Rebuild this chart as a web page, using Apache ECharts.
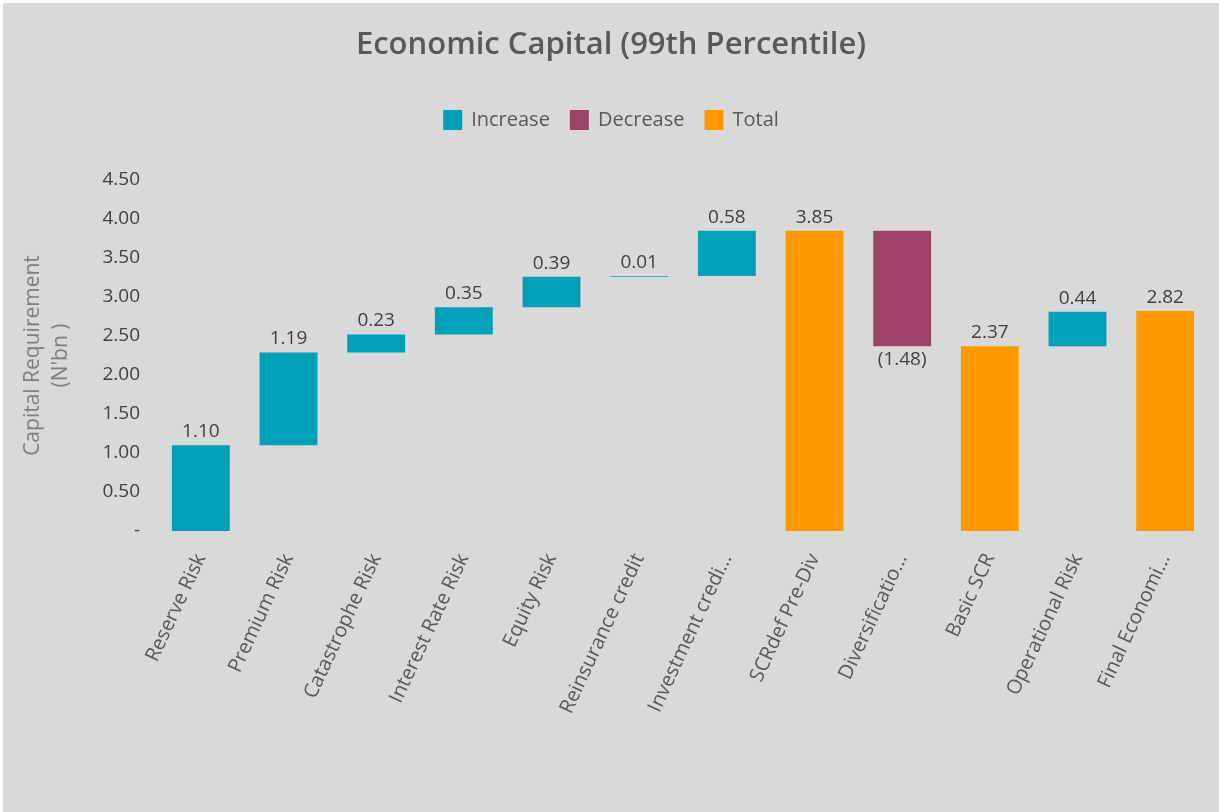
<!DOCTYPE html>
<html>
<head>
<meta charset="utf-8">
<script src="https://cdn.jsdelivr.net/npm/echarts@6/dist/echarts.min.js"></script>
<style>
html,body{margin:0;padding:0;background:#ffffff;}
#wrap{position:absolute;left:3px;top:3px;width:1216px;height:809px;background:#d9d9d9;}
#chart{width:1216px;height:809px;}
</style>
</head>
<body>
<div id="wrap"><div id="chart"></div></div>
<script>
const categories = ['Reserve Risk','Premium Risk','Catastrophe Risk','Interest Rate Risk','Equity Risk','Reinsurance credit','Investment credi...','SCRdef Pre-Div','Diversificatio...','Basic SCR','Operational Risk','Final Economi...'];
const values = [1.10, 1.19, 0.23, 0.35, 0.39, 0.01, 0.58, 3.85, -1.48, 2.37, 0.44, 2.82];
const kinds = ['inc','inc','inc','inc','inc','inc','inc','total','dec','total','inc','total'];
const yTicks = [0, 0.5, 1, 1.5, 2, 2.5, 3, 3.5, 4, 4.5];

const base = [], inc = [], dec = [], tot = [];
let running = 0;
values.forEach((v, i) => {
  const k = kinds[i];
  if (k === 'inc') {
    base.push(running); inc.push(v); dec.push('-'); tot.push('-');
    running += v;
  } else if (k === 'dec') {
    running += v;
    base.push(running); inc.push('-'); dec.push(-v); tot.push('-');
  } else {
    base.push(0); inc.push('-'); dec.push('-'); tot.push(v);
    running = v;
  }
});

const font = '"Open Sans", "Noto Sans", sans-serif';
const labelCommon = {
  show: true, fontFamily: font, fontSize: 19, color: '#404040', distance: 4
};

const chart = echarts.init(document.getElementById('chart'), null, {renderer: 'canvas'});
chart.setOption({
  backgroundColor: '#d9d9d9',
  animation: false,
  textStyle: {fontFamily: font},
  title: {
    text: 'Economic Capital (99th Percentile)',
    left: 'center', top: 22,
    textStyle: {fontFamily: font, fontSize: 31, fontWeight: 600, color: '#595959'}
  },
  legend: {
    data: ['Increase','Decrease','Total'],
    top: 102, left: 'center',
    icon: 'rect', itemWidth: 19, itemHeight: 20, itemGap: 20,
    textStyle: {fontFamily: font, fontSize: 20, color: '#595959', padding: [0, 0, 0, 4]}
  },
  grid: {left: 154, right: 10, top: 177, bottom: 281, containLabel: false, outerBoundsMode: 'none'},
  xAxis: {
    type: 'category',
    data: categories,
    axisLine: {show: false},
    axisTick: {show: false},
    axisLabel: {
      rotate: 65, margin: 24, interval: 0,
      fontFamily: font, fontSize: 20, color: '#595959'
    }
  },
  yAxis: {
    type: 'value',
    min: 0, max: 4.5, interval: 0.5,
    name: "Capital Requirement\n(N'bn )",
    nameLocation: 'middle', nameGap: 82, nameRotate: 90,
    nameTextStyle: {fontFamily: font, fontSize: 21, color: '#7f7f7f', lineHeight: 28},
    axisLine: {show: false},
    axisTick: {show: false},
    splitLine: {show: false},
    axisLabel: {
      margin: 17, fontFamily: font, fontSize: 19, color: '#404040',
      formatter: v => {
        const t = yTicks.find(x => Math.abs(x - v) < 1e-9);
        if (t === undefined) return '';
        return t === 0 ? '-' : t.toFixed(2);
      }
    }
  },
  series: [
    {
      name: 'base', type: 'bar', stack: 'w', data: base,
      itemStyle: {color: 'rgba(0,0,0,0)'}, barCategoryGap: '34%',
      emphasis: {disabled: true}, silent: true
    },
    {
      name: 'Increase', type: 'bar', stack: 'w', data: inc,
      itemStyle: {color: '#00a0b8'},
      label: Object.assign({}, labelCommon, {position: 'top', formatter: p => Number(p.value).toFixed(2)})
    },
    {
      name: 'Decrease', type: 'bar', stack: 'w', data: dec,
      itemStyle: {color: '#9e4468'},
      label: Object.assign({}, labelCommon, {position: 'bottom', formatter: p => '(' + Number(p.value).toFixed(2) + ')'})
    },
    {
      name: 'Total', type: 'bar', stack: 'w', data: tot,
      itemStyle: {color: '#ff9900'},
      label: Object.assign({}, labelCommon, {position: 'top', formatter: p => Number(p.value).toFixed(2)})
    }
  ]
});
</script>
</body>
</html>
